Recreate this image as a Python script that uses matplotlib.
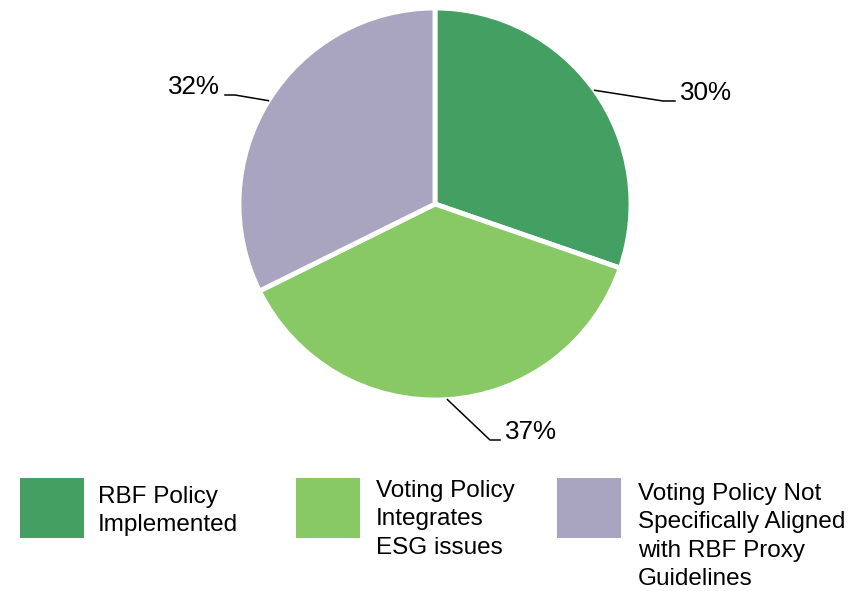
import numpy as np
import matplotlib
matplotlib.use("Agg")
import matplotlib.pyplot as plt
from matplotlib.patches import Rectangle

categories = ["RBF Policy\nImplemented",
              "Voting Policy\nIntegrates\nESG issues",
              "Voting Policy Not\nSpecifically Aligned\nwith RBF Proxy\nGuidelines"]
values = [30, 37, 32]
colors = ["#43A062", "#88C965", "#A9A5C1"]

plt.rcParams['font.family'] = ['Liberation Sans', 'DejaVu Sans']

W, H = 865, 591
fig = plt.figure(figsize=(W / 100, H / 100), dpi=100)
ax = fig.add_axes([0, 0, 1, 1])

cx, cy, r = 435, H - 204, 196
wedges, _ = ax.pie(values, colors=colors, startangle=90, counterclock=False,
                   center=(cx, cy), radius=r, frame=True,
                   wedgeprops=dict(edgecolor='white', linewidth=3.5))
ax.set_xlim(0, W)
ax.set_ylim(0, H)
ax.set_aspect('equal')
ax.axis('off')

# label layout: (elbow x, elbow y, end x, text x, ha) in pixel coords (y from top)
layout = [
    (663, 101, 675, 680, 'left'),
    (490, 440, 500, 505, 'left'),
    (235, 95, 225, 220, 'right'),
]
for w, v, (ex, ey, endx, tx, ha) in zip(wedges, values, layout):
    ang = np.deg2rad((w.theta1 + w.theta2) / 2)
    px, py = cx + r * np.cos(ang), cy + r * np.sin(ang)
    ax.plot([px, ex, endx], [py, H - ey, H - ey], color='black', lw=1.1)
    ax.text(tx, H - ey + 8, f"{v}%", ha=ha, va='center', fontsize=18.7, color='black')

# legend
sq_x = [20, 296, 557]
txt_x = [98, 376, 638]
txt_top = [486, 480, 483]
for c, lab, sx, tx, tt in zip(colors, categories, sq_x, txt_x, txt_top):
    ax.add_patch(Rectangle((sx, H - 538), 64, 60, facecolor=c, edgecolor='none'))
    ax.text(tx, H - tt, lab, ha='left', va='top', fontsize=17.5,
            linespacing=1.37, color='black')

fig.savefig("out.png", dpi=100)
